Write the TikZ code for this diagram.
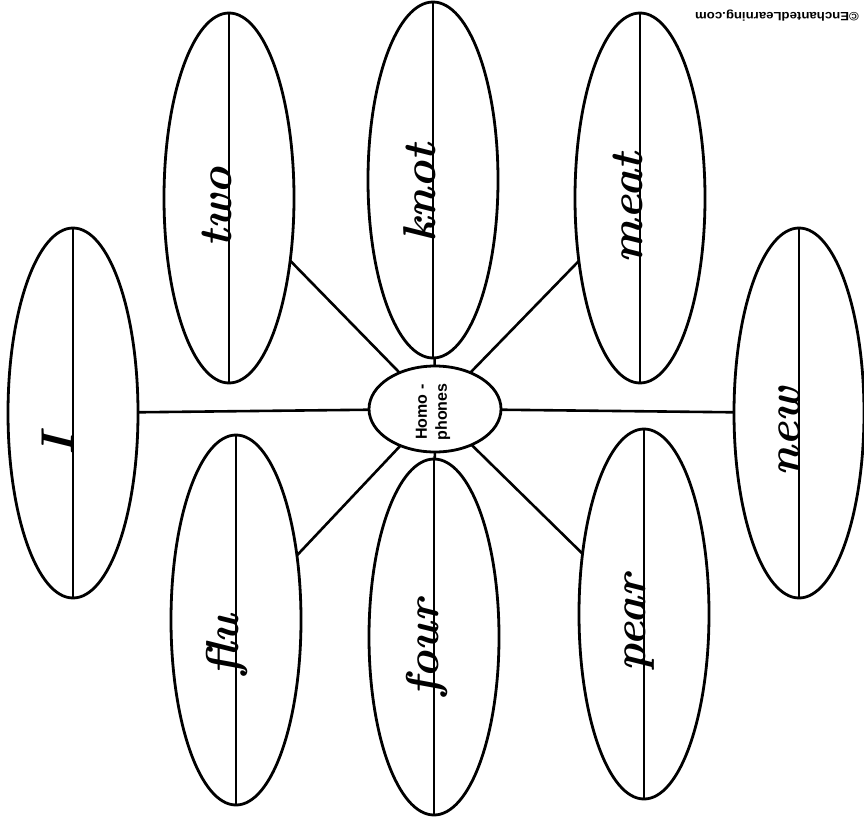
\documentclass[tikz,border=0pt]{standalone}
\usepackage{fontspec}
\newfontfamily\labelsans{Liberation Sans}
\usetikzlibrary{shapes.geometric}
\tikzset{
  petal/.style={draw, ellipse, line width=2.8pt, inner sep=0pt, outer sep=0pt, minimum width=130, minimum height=370},
  shortpetal/.style={petal, minimum height=356},
  hubshape/.style={draw, ellipse, line width=2.8pt, inner sep=0pt, outer sep=0pt, minimum width=132, minimum height=86},
  midline/.style={line width=1.8pt},
  link/.style={line width=2.6pt},
  hand/.style={rotate=90, anchor=base, inner sep=0pt, font=\fontsize{46}{46}\selectfont\bfseries\itshape},
}
\begin{document}
\begin{tikzpicture}[x=1pt, y=-1pt]
\useasboundingbox[fill=white] (0,0) rectangle (864,816);

% petals
\node[petal] (I) at (73,413) {};
\node[petal] (two) at (229,198) {};
\node[shortpetal] (knot) at (433,180) {};
\node[petal] (meat) at (640,198) {};
\node[petal] (new) at (799,413) {};
\node[petal] (flu) at (236,620) {};
\node[shortpetal] (four) at (434,637) {};
\node[petal] (pear) at (644,614) {};

% hub
\node[hubshape] (hub) at (435,409) {};
\node[rotate=90, align=center, inner sep=0pt, font=\labelsans\bfseries\fontsize{16}{20}\selectfont] (hublabel) at (433,412) {Homo -\\phones};

% middle lines
\foreach \p in {I,two,knot,meat,new,flu,four,pear}{
  \draw[midline] (\p.north) -- (\p.south);
}

% connectors
\foreach \p in {I,two,knot,meat,new,flu,four,pear}{
  \draw[link] (hub) -- (\p);
}

% handwritten words
\node[hand] (wI) at (73,445) {I};
\node[hand] (wtwo) at (231,207) {two};
\node[hand] (wknot) at (435,193) {knot};
\node[hand] (wmeat) at (642,208) {meat};
\node[hand] (wnew) at (799,432) {new};
\node[hand] (wflu) at (238,645) {flu};
\node[hand] (wfour) at (438,648) {four};
\node[hand] (wpear) at (645,623) {pear};

% copyright
\node[rotate=180, xscale=1.1, inner sep=0pt, font=\labelsans\bfseries\fontsize{12}{14}\selectfont] (copy) at (777,16) {©EnchantedLearning.com};
\end{tikzpicture}
\end{document}
